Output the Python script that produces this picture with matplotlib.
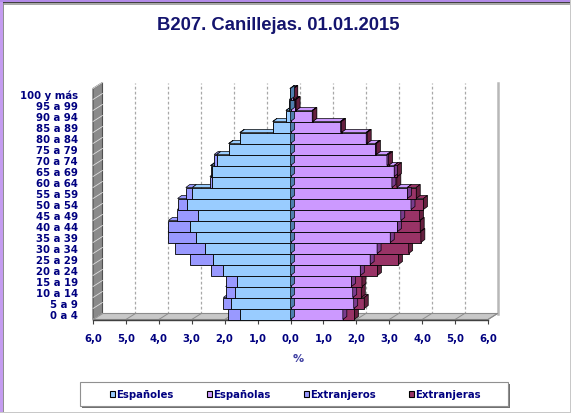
import matplotlib
matplotlib.use("Agg")
import matplotlib.pyplot as plt
from matplotlib.patches import Polygon, Rectangle

# ---------------- data ----------------
groups = ["0 a 4", "5 a 9", "10 a 14", "15 a 19", "20 a 24", "25 a 29", "30 a 34",
          "35 a 39", "40 a 44", "45 a 49", "50 a 54", "55 a 59", "60 a 64", "65 a 69",
          "70 a 74", "75 a 79", "80 a 84", "85 a 89", "90 a 94", "95 a 99", "100 y más"]
espanoles = [1.54, 1.82, 1.69, 1.64, 2.04, 2.35, 2.61, 2.88, 3.06, 2.80, 3.13, 2.98,
             2.40, 2.40, 2.24, 1.86, 1.52, 0.53, 0.13, 0.04, 0.02]
extranjeros = [0.36, 0.22, 0.28, 0.31, 0.38, 0.70, 0.90, 0.84, 0.65, 0.64, 0.30, 0.20,
               0.05, 0.03, 0.08, 0.02, 0.02, 0.01, 0.01, 0.00, 0.00]
espanolas = [1.59, 1.92, 1.89, 1.85, 2.12, 2.42, 2.63, 3.03, 3.25, 3.35, 3.66, 3.55,
             3.08, 3.15, 2.93, 2.58, 2.30, 1.52, 0.66, 0.15, 0.08]
extranjeras = [0.35, 0.32, 0.26, 0.32, 0.52, 0.86, 0.96, 0.93, 0.69, 0.57, 0.38, 0.27,
               0.15, 0.10, 0.05, 0.03, 0.03, 0.03, 0.02, 0.02, 0.02]
xticks = [-6, -5, -4, -3, -2, -1, 0, 1, 2, 3, 4, 5, 6]
xticklabels = ["6,0", "5,0", "4,0", "3,0", "2,0", "1,0", "0,0", "1,0", "2,0", "3,0", "4,0", "5,0", "6,0"]
series_names = ["Españoles", "Españolas", "Extranjeros", "Extranjeras"]
title = "B207. Canillejas. 01.01.2015"

# ---------------- styling ----------------
W, H = 571, 414
NAVY = "#000080"
LBL_FONT = "DejaVu Sans"
c_esp_m, c_ext_m = "#99CCFF", "#9999FF"
c_esp_f, c_ext_f = "#CC99FF", "#993366"
side_m = "#4F7FAE"
side_f_esp = "#7A3C8E"
side_f_ext = "#66203F"

def fx(px):
    return px / W

def fy(py):
    return 1 - py / H

fig = plt.figure(figsize=(W / 100, H / 100), dpi=100)
fig.patch.set_facecolor("white")

# frame
fig.patches.append(Rectangle((0, 0), fx(3), 1, transform=fig.transFigure,
                             facecolor="#C49CF0", edgecolor="none", zorder=0))
fig.patches.append(Rectangle((0, fy(2.5)), 1, 2.5 / H, transform=fig.transFigure,
                             facecolor="#B38BE8", edgecolor="none", zorder=0))
fig.patches.append(Rectangle((fx(3), fy(4)), 1, 1.2 / H, transform=fig.transFigure,
                             facecolor="#404040", edgecolor="none", zorder=0))
fig.patches.append(Rectangle((fx(3), fy(5.5)), 1, 1.5 / H, transform=fig.transFigure,
                             facecolor="#A8A8A8", edgecolor="none", zorder=0))
fig.patches.append(Rectangle((fx(3), 0), 1.2 / W, fy(4), transform=fig.transFigure,
                             facecolor="#909090", edgecolor="none", zorder=0))
fig.patches.append(Rectangle((fx(569.5), 0), 1.5 / W, 1, transform=fig.transFigure,
                             facecolor="#C8C8C8", edgecolor="none", zorder=0))
fig.patches.append(Rectangle((0, fy(414)), 1, 1.5 / H, transform=fig.transFigure,
                             facecolor="#C8C8C8", edgecolor="none", zorder=0))

# axes: front plane, x -6..6 at px 93..488, rows 11 px each, bottom at 320.5
ax_left, ax_right = 93, 488
ax_bottom, ax_top = 320.5, 89.5
ax = fig.add_axes([fx(ax_left), fy(ax_bottom), (ax_right - ax_left) / W, (ax_bottom - ax_top) / H])
ax.set_xlim(-6, 6)
ax.set_ylim(-0.5, len(groups) - 0.5)
ax.patch.set_alpha(0)

ppx = 12 / (ax_right - ax_left)      # data units per pixel (x)
ppy = len(groups) / (ax_bottom - ax_top)  # data units per pixel (y)
wdx, wdy = 9.5 * ppx, 6 * ppy        # wall depth
bdx, bdy = 4 * ppx, 3 * ppy          # bar depth

y0, y1 = -0.5, len(groups) - 0.5

# back grid lines
for v in xticks[1:-1]:
    ax.plot([v + wdx, v + wdx], [y0 + wdy, y1 + wdy], color="#A8A8A8", lw=0.9,
            ls=(0, (2.2, 1.8)), clip_on=False, zorder=1)
ax.plot([6 + wdx, 6 + wdx], [y0 + wdy, y1 + wdy], color="#B8B8B8", lw=1.8,
        clip_on=False, zorder=1)

# left wall
ax.add_patch(Polygon([(-6, y0), (-6, y1), (-6 + wdx, y1 + wdy), (-6 + wdx, y0 + wdy)],
                     closed=True, facecolor="#8A8A8A", edgecolor="#505050", lw=0.8,
                     clip_on=False, zorder=2))
for k in range(len(groups) + 1):
    yy = k - 0.5
    ax.plot([-6, -6 + wdx], [yy, yy + wdy], color="#E0E0E0", lw=0.6, clip_on=False, zorder=2.1)

# floor
ax.add_patch(Polygon([(-6, y0), (6, y0), (6 + wdx, y0 + wdy), (-6 + wdx, y0 + wdy)],
                     closed=True, facecolor="#C8C8C8", edgecolor="#8C8C8C", lw=0.8,
                     clip_on=False, zorder=2))
for v in xticks:
    ax.plot([v, v + wdx], [y0, y0 + wdy], color="#8C8C8C", lw=0.7, clip_on=False, zorder=2.1)

# bars (front faces)
idx = list(range(len(groups)))
left_ext_m = [-(a + b) for a, b in zip(espanoles, extranjeros)]
b_ext_m = ax.barh(idx, extranjeros, left=left_ext_m, height=1.0, color=c_ext_m,
                  edgecolor="black", linewidth=0.6)
b_esp_m = ax.barh(idx, espanoles, left=[-a for a in espanoles], height=1.0, color=c_esp_m,
                  edgecolor="black", linewidth=0.6)
b_esp_f = ax.barh(idx, espanolas, left=0, height=1.0, color=c_esp_f,
                  edgecolor="black", linewidth=0.6)
b_ext_f = ax.barh(idx, extranjeras, left=espanolas, height=1.0, color=c_ext_f,
                  edgecolor="black", linewidth=0.6)

def top_face(xa, xb, yt, color, z):
    ax.add_patch(Polygon([(xa, yt), (xb, yt), (xb + bdx, yt + bdy), (xa + bdx, yt + bdy)],
                         closed=True, facecolor=color, edgecolor="black", lw=0.5,
                         clip_on=False, zorder=z))

def side_face(xs, yc, color, z):
    ax.add_patch(Polygon([(xs, yc - 0.5), (xs, yc + 0.5), (xs + bdx, yc + 0.5 + bdy),
                          (xs + bdx, yc - 0.5 + bdy)],
                         closed=True, facecolor=color, edgecolor="black", lw=0.5,
                         clip_on=False, zorder=z))

for i in idx:
    z = 10 + i * 0.1
    for b in (b_ext_m, b_esp_m, b_esp_f, b_ext_f):
        b[i].set_zorder(z + 0.01)
        b[i].set_clip_on(False)
    yt = i + 0.5
    em, xm = espanoles[i], extranjeros[i]
    ef, xf = espanolas[i], extranjeras[i]
    if xm > 0:
        top_face(-(em + xm), -em, yt, c_ext_m, z + 0.02)
    top_face(-em, 0, yt, c_esp_m, z + 0.02)
    top_face(0, ef, yt, c_esp_f, z + 0.02)
    side_face(ef, i, side_f_esp, z + 0.025)
    if xf > 0:
        top_face(ef, ef + xf, yt, c_ext_f, z + 0.03)
        side_face(ef + xf, i, side_f_ext, z + 0.035)
    side_face(0, i, side_m, z + 0.04)

# axes styling
for s in ("top", "right", "left"):
    ax.spines[s].set_visible(False)
ax.spines["bottom"].set_color("#404040")
ax.spines["bottom"].set_linewidth(1.0)
ax.spines["bottom"].set_zorder(3)
ax.set_xticks(xticks)
ax.set_xticklabels(xticklabels, fontsize=7.3, fontweight="bold", color=NAVY,
                   family=LBL_FONT)
ax.tick_params(axis="x", length=3, width=0.8, color="#404040", pad=6.5)
ax.set_yticks(idx)
ax.set_yticklabels(groups, fontsize=7.3, fontweight="bold", color=NAVY,
                   family=LBL_FONT)
ax.tick_params(axis="y", length=0, pad=11)

# title and axis label
fig.text(fx(278.5), fy(25.5), title, ha="center", va="center", fontsize=13.3,
         fontweight="bold", color="#14146E", family="Liberation Sans")
fig.text(fx(298), fy(359), "%", ha="center", va="center", fontsize=8,
         fontweight="bold", color="#3C3CA0", family=LBL_FONT)

# legend box
lx0, lx1, ly0, ly1 = 80, 508, 383, 407
fig.patches.append(Rectangle((fx(lx0 + 1.5), fy(ly1 + 1.5)), (lx1 - lx0) / W, (ly1 - ly0) / H,
                             transform=fig.transFigure, facecolor="#707070",
                             edgecolor="none", zorder=1))
fig.patches.append(Rectangle((fx(lx0), fy(ly1)), (lx1 - lx0) / W, (ly1 - ly0) / H,
                             transform=fig.transFigure, facecolor="white",
                             edgecolor="#909090", lw=0.8, zorder=2))
leg_colors = [c_esp_m, c_esp_f, c_ext_m, c_ext_f]
leg_x = [109.5, 206.5, 303.5, 408.5]
for name, col, px in zip(series_names, leg_colors, leg_x):
    fig.patches.append(Rectangle((fx(px), fy(398)), 5 / W, 6 / H, transform=fig.transFigure,
                                 facecolor=col, edgecolor="black", lw=0.8, zorder=3))
    fig.text(fx(px + 7), fy(395), name, ha="left", va="center", fontsize=7.3,
             fontweight="bold", color=NAVY, family=LBL_FONT, zorder=4)

fig.savefig("out.png", dpi=100)
